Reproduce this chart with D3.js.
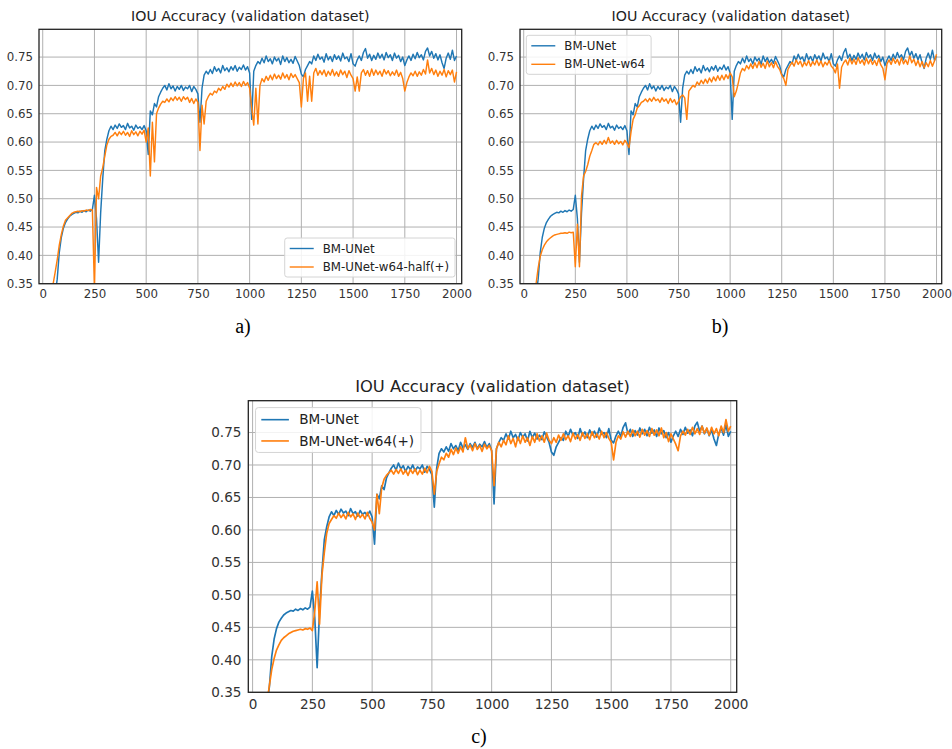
<!DOCTYPE html>
<html><head><meta charset="utf-8">
<script src="https://cdn.jsdelivr.net/npm/d3@7"></script>
<style>body{margin:0;background:#fff} svg{display:block}</style>
</head><body>
<script>
// epochs of the read samples (x positions)
const epochs = d3.range(50, 2001, 10);

// BM-UNet (same run in all three panels)
const bmUnet = [
0.300,0.330,0.358,0.405,0.432,0.448,0.458,0.464,0.469,0.472,
0.474,0.476,0.475,0.478,0.476,0.479,0.477,0.480,0.478,0.481,
0.506,0.465,0.388,0.475,0.535,0.585,0.605,0.620,0.628,0.622,
0.630,0.624,0.632,0.626,0.629,0.622,0.633,0.625,0.628,0.621,
0.630,0.624,0.627,0.622,0.629,0.620,0.578,0.655,0.648,0.668,
0.662,0.680,0.688,0.695,0.700,0.692,0.703,0.694,0.699,0.690,
0.698,0.693,0.700,0.691,0.697,0.694,0.700,0.689,0.698,0.693,
0.685,0.635,0.695,0.718,0.725,0.720,0.728,0.721,0.733,0.725,
0.730,0.722,0.735,0.726,0.731,0.724,0.733,0.727,0.735,0.725,
0.732,0.728,0.736,0.727,0.733,0.722,0.640,0.725,0.735,0.742,
0.738,0.748,0.740,0.752,0.742,0.747,0.738,0.750,0.743,0.748,
0.737,0.752,0.742,0.749,0.740,0.746,0.739,0.751,0.743,0.735,
0.720,0.715,0.728,0.735,0.742,0.738,0.752,0.744,0.755,0.746,
0.750,0.741,0.756,0.745,0.751,0.742,0.754,0.746,0.752,0.743,
0.757,0.747,0.750,0.742,0.756,0.738,0.734,0.745,0.752,0.744,
0.758,0.765,0.748,0.755,0.744,0.753,0.746,0.757,0.748,0.755,
0.745,0.758,0.749,0.754,0.744,0.757,0.748,0.753,0.742,0.750,
0.735,0.745,0.752,0.744,0.755,0.747,0.758,0.749,0.754,0.745,
0.760,0.766,0.752,0.760,0.748,0.756,0.745,0.754,0.740,0.730,
0.748,0.757,0.746,0.762,0.744,0.752];

// BM-UNet-w64-half(+)  (panel a)
const w64Half = [
0.349,0.370,0.392,0.418,0.437,0.452,0.462,0.466,0.470,0.474,
0.476,0.477,0.478,0.477,0.479,0.478,0.480,0.479,0.481,0.480,
0.340,0.520,0.500,0.540,0.555,0.575,0.595,0.605,0.610,0.612,
0.617,0.611,0.618,0.613,0.619,0.612,0.617,0.610,0.620,0.613,
0.618,0.611,0.619,0.614,0.621,0.600,0.625,0.540,0.635,0.565,
0.650,0.660,0.667,0.672,0.670,0.676,0.671,0.678,0.673,0.680,
0.674,0.679,0.672,0.680,0.675,0.679,0.670,0.677,0.668,0.676,
0.670,0.585,0.665,0.632,0.672,0.680,0.686,0.683,0.690,0.687,
0.695,0.691,0.698,0.693,0.702,0.697,0.704,0.698,0.706,0.699,
0.705,0.698,0.707,0.700,0.705,0.695,0.660,0.630,0.695,0.632,
0.700,0.712,0.706,0.716,0.709,0.718,0.710,0.720,0.712,0.718,
0.711,0.722,0.713,0.719,0.710,0.721,0.714,0.719,0.712,0.705,
0.662,0.712,0.722,0.672,0.716,0.672,0.722,0.730,0.718,0.726,
0.719,0.727,0.716,0.725,0.718,0.728,0.717,0.724,0.716,0.727,
0.719,0.725,0.714,0.726,0.718,0.712,0.690,0.715,0.690,0.722,
0.728,0.718,0.726,0.716,0.729,0.718,0.727,0.719,0.725,0.716,
0.728,0.720,0.726,0.717,0.724,0.718,0.727,0.716,0.723,0.712,
0.690,0.705,0.715,0.722,0.717,0.725,0.716,0.724,0.718,0.728,
0.720,0.745,0.722,0.730,0.719,0.727,0.716,0.725,0.718,0.728,
0.715,0.726,0.719,0.727,0.706,0.724];

// BM-UNet-w64  (panel b)
const w64 = [
0.320,0.350,0.378,0.398,0.410,0.418,0.424,0.428,0.431,0.434,
0.436,0.437,0.438,0.439,0.439,0.440,0.439,0.441,0.440,0.441,
0.380,0.455,0.380,0.505,0.540,0.548,0.560,0.575,0.585,0.596,
0.599,0.595,0.601,0.596,0.603,0.597,0.608,0.598,0.602,0.596,
0.603,0.597,0.601,0.595,0.603,0.598,0.590,0.618,0.640,0.648,
0.660,0.664,0.670,0.672,0.676,0.671,0.677,0.672,0.679,0.673,
0.676,0.670,0.678,0.672,0.676,0.668,0.677,0.670,0.675,0.666,
0.672,0.680,0.683,0.678,0.640,0.690,0.695,0.700,0.697,0.706,
0.701,0.709,0.703,0.711,0.704,0.713,0.706,0.715,0.708,0.717,
0.709,0.718,0.710,0.719,0.712,0.722,0.715,0.680,0.690,0.705,
0.722,0.730,0.726,0.735,0.729,0.738,0.730,0.740,0.731,0.742,
0.732,0.739,0.730,0.743,0.733,0.740,0.731,0.742,0.733,0.728,
0.718,0.712,0.700,0.728,0.735,0.741,0.734,0.745,0.737,0.743,
0.733,0.741,0.735,0.744,0.734,0.742,0.736,0.745,0.735,0.743,
0.733,0.741,0.736,0.744,0.734,0.730,0.722,0.738,0.695,0.732,
0.740,0.745,0.736,0.748,0.738,0.746,0.737,0.749,0.739,0.745,
0.736,0.748,0.738,0.746,0.737,0.744,0.735,0.747,0.736,0.730,
0.710,0.738,0.745,0.737,0.748,0.739,0.746,0.736,0.749,0.738,
0.745,0.737,0.752,0.740,0.746,0.735,0.744,0.733,0.742,0.731,
0.740,0.733,0.744,0.734,0.743,0.755];

// BM-UNet-w64(+)  (panel c)
const w64Plus = [
0.320,0.335,0.360,0.385,0.402,0.415,0.423,0.430,0.434,0.437,
0.440,0.442,0.444,0.445,0.446,0.447,0.446,0.448,0.447,0.449,
0.445,0.475,0.520,0.455,0.530,0.565,0.595,0.610,0.616,0.622,
0.618,0.626,0.619,0.624,0.617,0.627,0.620,0.625,0.616,0.626,
0.619,0.624,0.617,0.627,0.618,0.612,0.600,0.655,0.625,0.665,
0.678,0.684,0.688,0.692,0.686,0.693,0.687,0.694,0.686,0.692,
0.684,0.693,0.687,0.694,0.685,0.692,0.686,0.695,0.688,0.698,
0.690,0.655,0.690,0.702,0.712,0.708,0.718,0.712,0.724,0.716,
0.726,0.718,0.728,0.720,0.742,0.725,0.731,0.722,0.733,0.724,
0.730,0.721,0.732,0.725,0.730,0.722,0.668,0.725,0.735,0.728,
0.738,0.731,0.745,0.733,0.741,0.728,0.743,0.733,0.745,0.735,
0.742,0.730,0.744,0.735,0.748,0.737,0.745,0.735,0.749,0.738,
0.733,0.742,0.735,0.746,0.738,0.748,0.739,0.745,0.736,0.749,
0.740,0.747,0.738,0.750,0.741,0.748,0.739,0.751,0.742,0.748,
0.740,0.752,0.742,0.750,0.741,0.735,0.708,0.735,0.745,0.740,
0.751,0.743,0.752,0.744,0.754,0.745,0.752,0.743,0.755,0.746,
0.753,0.744,0.756,0.746,0.754,0.745,0.757,0.742,0.750,0.736,
0.748,0.740,0.732,0.722,0.745,0.752,0.746,0.755,0.747,0.758,
0.748,0.756,0.747,0.760,0.749,0.757,0.746,0.758,0.748,0.756,
0.745,0.760,0.750,0.770,0.752,0.760];

const xTicks = [0,250,500,750,1000,1250,1500,1750,2000];
const yTicks = [0.35,0.40,0.45,0.50,0.55,0.60,0.65,0.70,0.75];
const xDomain = [-18, 2025];
const yDomain = [0.35, 0.799];
const titleText = "IOU Accuracy (validation dataset)";
const nameUnet = "BM-UNet";
const nameHalf = "BM-UNet-w64-half(+)";
const nameW64 = "BM-UNet-w64";
const namePlus = "BM-UNet-w64(+)";
const panelLabels = ["a)","b)","c)"];

const blue = "#1f77b4", orange = "#ff7f0e";

const panels = [
  {left:39, right:461.7, top:29.3, bottom:283.7, k:1, legend:"br",
   series:[[nameUnet,bmUnet,blue],[nameHalf,w64Half,orange]], label:panelLabels[0], lx:243, ly:333},
  {left:520, right:941.7, top:29.3, bottom:283.7, k:1, legend:"tl",
   series:[[nameUnet,bmUnet,blue],[nameW64,w64,orange]], label:panelLabels[1], lx:720, ly:333},
  {left:248.3, right:736.7, top:400.7, bottom:692.3, k:1.15, legend:"tl",
   series:[[nameUnet,bmUnet,blue],[namePlus,w64Plus,orange]], label:panelLabels[2], lx:479, ly:743},
];

const svg = d3.select("body").append("svg").attr("width",952).attr("height",749);
const font = "'DejaVu Sans', sans-serif";

panels.forEach((p,i)=>{
  const k = p.k;
  const x = d3.scaleLinear().domain(xDomain).range([p.left,p.right]);
  const y = d3.scaleLinear().domain(yDomain).range([p.bottom,p.top]);
  const g = svg.append("g");
  const clipId = "clip"+i;
  g.append("clipPath").attr("id",clipId).append("rect")
    .attr("x",p.left).attr("y",p.top).attr("width",p.right-p.left).attr("height",p.bottom-p.top);

  // grid
  g.append("g").selectAll("line").data(xTicks).join("line")
    .attr("x1",d=>x(d)).attr("x2",d=>x(d)).attr("y1",p.top).attr("y2",p.bottom)
    .attr("stroke","#b0b0b0").attr("stroke-width",1);
  g.append("g").selectAll("line").data(yTicks).join("line")
    .attr("y1",d=>y(d)).attr("y2",d=>y(d)).attr("x1",p.left).attr("x2",p.right)
    .attr("stroke","#b0b0b0").attr("stroke-width",1);

  // lines
  const line = d3.line().x((d,j)=>x(epochs[j])).y(d=>y(d));
  const lg = g.append("g").attr("clip-path",`url(#${clipId})`);
  p.series.forEach(s=>{
    lg.append("path").datum(s[1]).attr("d",line).attr("fill","none")
      .attr("stroke",s[2]).attr("stroke-width",1.45*k).attr("stroke-linejoin","round");
  });

  // axes via d3 (no visible tick marks, as in the reference)
  const fs = 11.8*k;
  const xAxis = d3.axisBottom(x).tickValues(xTicks).tickSize(0).tickPadding(6*k).tickFormat(d3.format("d"));
  const yAxis = d3.axisLeft(y).tickValues(yTicks).tickSize(0).tickPadding(6*k).tickFormat(d3.format(".2f"));
  const xa = g.append("g").attr("transform",`translate(0,${p.bottom})`).call(xAxis);
  const ya = g.append("g").attr("transform",`translate(${p.left},0)`).call(yAxis);
  [xa,ya].forEach(a=>{
    a.select(".domain").remove();
    a.selectAll("text").attr("font-family",font).attr("font-size",fs).attr("fill","#333");
  });

  // frame
  g.append("rect").attr("x",p.left).attr("y",p.top).attr("width",p.right-p.left).attr("height",p.bottom-p.top)
    .attr("fill","none").attr("stroke","#222").attr("stroke-width",1.3);

  // title
  g.append("text").attr("x",(p.left+p.right)/2).attr("y",p.top-8*k)
    .attr("text-anchor","middle").attr("font-family",font).attr("font-size",14.2*k)
    .attr("fill","#222").text(titleText);

  // legend
  const leg = g.append("g");
  const box = leg.append("rect");
  const texts = p.series.map((s,j)=>{
    return leg.append("text").attr("font-family",font).attr("font-size",fs).attr("fill","#222")
      .attr("dy","0.35em").text(s[0]);
  });
  const tw = d3.max(texts, t=>t.node().getComputedTextLength());
  const bw = 38*k + tw + 6*k, bh = 39*k;
  let bx, by;
  if (p.legend==="br") { bx = p.right - 6.7*k - bw; by = p.bottom - 6.7*k - bh; }
  else { bx = p.left + 6.3*k; by = p.top + 6*k; }
  box.attr("x",bx).attr("y",by).attr("width",bw).attr("height",bh).attr("rx",2.5*k)
    .attr("fill","#fff").attr("fill-opacity",0.85).attr("stroke","#d4d4d4").attr("stroke-width",1);
  p.series.forEach((s,j)=>{
    const ry = by + (10.5 + 18.5*j)*k;
    leg.append("line").attr("x1",bx+5*k).attr("x2",bx+29*k).attr("y1",ry).attr("y2",ry)
      .attr("stroke",s[2]).attr("stroke-width",1.4*k);
    texts[j].attr("x",bx+38*k).attr("y",ry);
  });

  // panel label
  svg.append("text").attr("x",p.lx).attr("y",p.ly).attr("text-anchor","middle")
    .attr("font-family","'Liberation Serif', 'Times New Roman', serif").attr("font-size",20)
    .attr("fill","#000").text(p.label);
});
</script>
</body></html>
